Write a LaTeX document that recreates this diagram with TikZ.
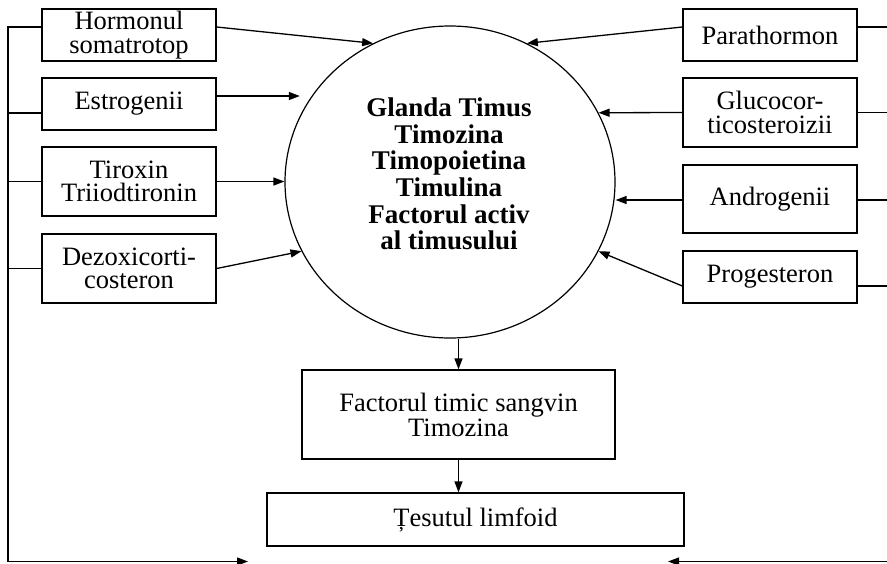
\documentclass[tikz,border=0pt]{standalone}
\usepackage{fontspec}
\setmainfont{Liberation Serif}
\usetikzlibrary{shapes.geometric,arrows.meta}
\begin{document}
\begin{tikzpicture}[x=1pt,y=-1pt,
  sidebox/.style={draw,line width=1.3pt,minimum width=174pt,inner sep=0pt,align=center,
    font=\fontsize{26.5}{23.5}\selectfont},
  bigbox/.style={draw,line width=1.3pt,inner sep=0pt,align=center,
    font=\fontsize{26.5}{25}\selectfont},
  arr/.style={line width=1.3pt,-{Triangle[length=11pt,width=8pt]}},
  conn/.style={line width=1.2pt}]
\useasboundingbox (0,0) rectangle (887,563);
% central gland
\node[draw,ellipse,line width=1.2pt,minimum width=330pt,minimum height=312pt,inner sep=0pt] (thy) at (450,182) {};
\node[align=center,font=\fontsize{27}{26.7}\selectfont\bfseries] (thytext) at (449,174)
  {Glanda Timus\\Timozina\\Timopoietina\\Timulina\\Factorul activ\\al timusului};
% left boxes
\node[sidebox,minimum height=52pt] (hor) at (129,35) {Hormonul\\somatrotop};
\node[sidebox,minimum height=52pt] (est) at (129,104) {Estrogenii};
\node[sidebox,minimum height=69pt] (tir) at (129,181.5) {Tiroxin\\Triiodtironin};
\node[sidebox,minimum height=69pt] (dez) at (129,268.5) {Dezoxicorti-\\costeron};
% right boxes
\node[sidebox,minimum height=52pt] (par) at (770,35) {Parathormon};
\node[sidebox,minimum height=69pt] (glu) at (770,112.5) {Glucocor-\\ticosteroizii};
\node[sidebox,minimum height=68pt] (and) at (770,199) {Androgenii};
\node[sidebox,minimum height=52pt] (pro) at (770,277) {Progesteron};
% lower boxes
\node[bigbox,minimum width=313pt,minimum height=89pt] (fact) at (458.5,414.5) {Factorul timic sangvin\\Timozina};
\node[bigbox,minimum width=417pt,minimum height=53pt] (tes) at (475.5,519.5) {Țesutul limfoid};
% arrows into the gland
\draw[arr] ([yshift=8pt]hor.east) -- (thy.119);
\draw[arr,shorten >=12pt] ([yshift=8pt]est.east) -- ([yshift=8pt]est.east -| thy.148);
\draw[arr] (tir.east) -- (tir.east -| thy.west);
\draw[arr] (dez.east) -- (thy.205);
\draw[arr] ([yshift=8pt]par.west) -- (thy.61);
\draw[arr] (glu.west) -- (thy.25);
\draw[arr] ([yshift=-1pt]and.west) -- ([yshift=-1pt]and.west -| thy.east);
\draw[arr] ([yshift=-9pt]pro.west) -- (thy.-25);
% downward chain
\draw[arr] (fact.north |- thy.south) -- (fact.north);
\draw[arr] (fact.south) -- (tes.north -| fact.south);
% left feedback bus
\coordinate (lt) at (8,27);
\coordinate (lb) at (8,561.5);
\coordinate (ltip) at (248,561.5);
\draw[conn] ([yshift=8pt]hor.west) -- (lt) -- (lb);
\draw[conn] ([yshift=-9pt]est.west) -- ([yshift=-9pt]est.west -| lb);
\draw[conn] (tir.west) -- (tir.west -| lb);
\draw[conn] (dez.west) -- (dez.west -| lb);
\draw[arr] (lb) -- (ltip);
% right feedback bus
\coordinate (rb) at (887,561.5);
\coordinate (rtip) at (668,561.5);
\draw[conn] ([yshift=8pt]par.east) -- ([yshift=8pt]par.east -| rb);
\draw[conn] (glu.east) -- (glu.east -| rb);
\draw[conn] ([yshift=-1pt]and.east) -- ([yshift=-1pt]and.east -| rb);
\draw[conn] ([yshift=-9pt]pro.east) -- ([yshift=-9pt]pro.east -| rb);
\draw[arr] (rb) -- (rtip);
\end{tikzpicture}
\end{document}
